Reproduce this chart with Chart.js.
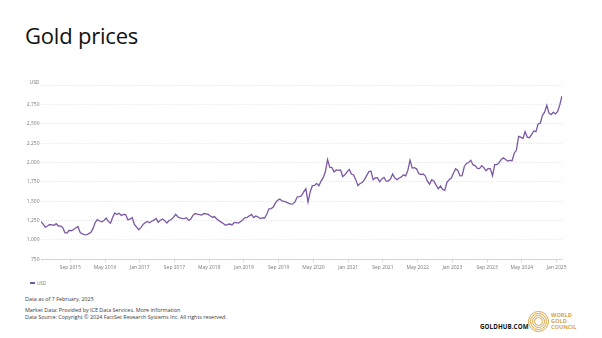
<!DOCTYPE html>
<html>
<head>
<meta charset="utf-8">
<script src="https://cdn.jsdelivr.net/npm/chart.js@4.4.1/dist/chart.umd.min.js"></script>
<style>
  html, body { margin: 0; padding: 0; background: #fff; }
  body { width: 602px; height: 338px; position: relative; overflow: hidden; font-family: "Open Sans", "Noto Sans", sans-serif; }
  #title { position: absolute; left: 25px; top: 20px; font-size: 22px; color: #111; letter-spacing: -0.2px; }
  #chartBox { position: absolute; left: 0; top: 75px; width: 602px; height: 200px; }
  #legend { position: absolute; left: 30px; top: 280px; font-size: 4.5px; color: #777; display: flex; align-items: center; }
  #legend span.swatch { display: inline-block; width: 5px; height: 1.3px; background: #7a58a3; margin-right: 2px; }
  .note { position: absolute; left: 25px; font-size: 5.4px; color: #3a3a3a; white-space: nowrap; line-height: 6.6px; }
  #hub { position: absolute; left: 480px; top: 322px; font-size: 6.2px; font-weight: 700; color: #111; letter-spacing: 0.1px; }
  #logo { position: absolute; left: 527px; top: 309px; }
</style>
</head>
<body>
<div id="title">Gold prices</div>
<div id="chartBox"><canvas id="chart"></canvas></div>
<div id="legend"><span class="swatch"></span>USD</div>
<div class="note" style="top:296px">Data as of 7 February, 2025</div>
<div class="note" style="top:307px">Market Data: Provided by ICE Data Services. More information<br>Data Source: Copyright © 2024 FactSet Research Systems Inc. All rights reserved.</div>
<div id="hub">GOLDHUB.COM</div>
<svg id="logo" width="60" height="26" viewBox="0 0 60 26">
  <g fill="none" stroke="#d7a547" stroke-width="1">
    <circle cx="11.5" cy="12.5" r="10"/>
    <circle cx="11.5" cy="12.5" r="8"/>
    <circle cx="11.5" cy="12.5" r="6"/>
    <circle cx="11.5" cy="12.5" r="4"/>
  </g>
  <g fill="#d7a547" font-family="Open Sans, sans-serif" font-weight="700" font-size="5.6">
    <text x="24" y="8">WORLD</text>
    <text x="24" y="14">GOLD</text>
    <text x="24" y="20">COUNCIL</text>
  </g>
</svg>
<script>
// Gold price, USD per ounce, two readings per month (first and second half).
const prices2015 = [1235, 1205, 1165, 1180, 1200, 1195, 1190, 1210, 1180, 1182, 1160, 1095,
                    1090, 1125, 1118, 1135, 1155, 1175, 1100, 1078, 1070, 1065];
const prices2016 = [1082, 1100, 1150, 1228, 1262, 1245, 1235, 1252, 1282, 1240, 1218, 1290,
                    1350, 1330, 1346, 1318, 1330, 1328, 1262, 1268, 1290, 1200, 1168, 1132];
const prices2017 = [1160, 1200, 1222, 1240, 1222, 1242, 1256, 1278, 1230, 1256, 1272, 1250,
                    1220, 1252, 1265, 1292, 1332, 1300, 1286, 1280, 1276, 1288, 1252, 1270];
const prices2018 = [1318, 1342, 1334, 1328, 1322, 1342, 1336, 1330, 1310, 1294, 1300, 1272,
                    1250, 1230, 1214, 1190, 1200, 1206, 1194, 1226, 1224, 1218, 1240, 1262];
const prices2019 = [1290, 1292, 1312, 1330, 1290, 1310, 1296, 1276, 1285, 1284, 1332, 1402,
                    1406, 1426, 1480, 1512, 1530, 1505, 1500, 1490, 1476, 1464, 1466, 1492];
const prices2020 = [1556, 1560, 1572, 1622, 1662, 1490, 1622, 1702, 1706, 1732, 1700, 1762,
                    1806, 1882, 2040, 1942, 1936, 1880, 1905, 1900, 1905, 1820, 1842, 1880];
const prices2021 = [1912, 1852, 1840, 1780, 1702, 1730, 1742, 1780, 1832, 1882, 1890, 1780,
                    1802, 1806, 1752, 1790, 1810, 1760, 1762, 1790, 1852, 1800, 1780, 1802];
const prices2022 = [1815, 1842, 1830, 1902, 2032, 1930, 1936, 1920, 1860, 1845, 1852, 1830,
                    1760, 1722, 1780, 1760, 1710, 1662, 1700, 1652, 1640, 1746, 1780, 1800];
const prices2023 = [1862, 1922, 1900, 1830, 1832, 1950, 1990, 2002, 2030, 1970, 1962, 1925,
                    1922, 1960, 1936, 1895, 1925, 1920, 1830, 1975, 1976, 2000, 2040, 2062];
const prices2024 = [2040, 2020, 2030, 2025, 2122, 2162, 2340, 2330, 2312, 2400, 2330, 2322,
                    2362, 2410, 2400, 2500, 2510, 2612, 2652, 2742, 2640, 2620, 2652, 2630];
const prices2025 = [2662, 2750, 2862];

// Which half-month slot each yearly series starts at.
const series = [
  [2015, 2, prices2015], [2016, 0, prices2016], [2017, 0, prices2017], [2018, 0, prices2018],
  [2019, 0, prices2019], [2020, 0, prices2020], [2021, 0, prices2021], [2022, 0, prices2022],
  [2023, 0, prices2023], [2024, 0, prices2024], [2025, 0, prices2025]
];

const xTickLabels = ['Sep 2015', 'May 2016', 'Jan 2017', 'Sep 2017', 'May 2018', 'Jan 2019',
                     'Sep 2019', 'May 2020', 'Jan 2021', 'Sep 2021', 'May 2022', 'Jan 2023',
                     'Sep 2023', 'May 2024', 'Jan 2025'];
const monthNames = ['Jan', 'Feb', 'Mar', 'Apr', 'May', 'Jun', 'Jul', 'Aug', 'Sep', 'Oct', 'Nov', 'Dec'];

const yMin = 750, yMax = 3000, yStep = 250;
const xStart = 2015 + 2.5 / 24, xEnd = 2025 + 2.5 / 24;

const points = [];
series.forEach(([year, first, values]) => {
  values.forEach((v, i) => points.push({ x: year + (first + i + 0.5) / 24, y: v }));
});

const tickPositions = xTickLabels.map(lbl => {
  const [m, y] = lbl.split(' ');
  return Number(y) + monthNames.indexOf(m) / 12;
});
const labelAt = v => {
  const k = tickPositions.findIndex(p => Math.abs(p - v) < 1e-6);
  return k >= 0 ? xTickLabels[k] : '';
};

const tickFont = { family: 'Open Sans, sans-serif', size: 5 };

new Chart(document.getElementById('chart'), {
  type: 'line',
  data: {
    datasets: [{
      label: 'USD',
      data: points,
      borderColor: '#7a58a3',
      borderWidth: 1.3,
      pointRadius: 0,
      tension: 0,
      fill: false
    }]
  },
  options: {
    responsive: true,
    maintainAspectRatio: false,
    animation: false,
    devicePixelRatio: 1,
    layout: { padding: { top: 10.3, right: 40, bottom: 0, left: 0 } },
    plugins: { legend: { display: false }, tooltip: { enabled: false } },
    scales: {
      x: {
        type: 'linear',
        min: xStart,
        max: xEnd,
        afterBuildTicks: scale => { scale.ticks = tickPositions.map(v => ({ value: v })); },
        afterFit: scale => { scale.height = 15.7; },
        ticks: {
          autoSkip: false, maxRotation: 0, padding: 2,
          color: '#7a7a7a', font: tickFont,
          callback: v => labelAt(v)
        },
        grid: { drawOnChartArea: false, drawTicks: true, tickLength: 3, color: '#cccccc', lineWidth: 0.8 },
        border: { display: true, color: '#cccccc', width: 0.8 }
      },
      y: {
        min: yMin,
        max: yMax,
        afterFit: scale => { scale.width = 41; },
        ticks: {
          stepSize: yStep, padding: 1.5,
          color: '#7a7a7a', font: tickFont,
          callback: v => v === yMax ? ['USD', ''] : v.toLocaleString('en-US')
        },
        grid: { drawTicks: false, color: '#dcdcdc', lineWidth: 0.8 },
        border: { display: false, dash: [1, 1.5] }
      }
    }
  }
});
</script>
</body>
</html>
